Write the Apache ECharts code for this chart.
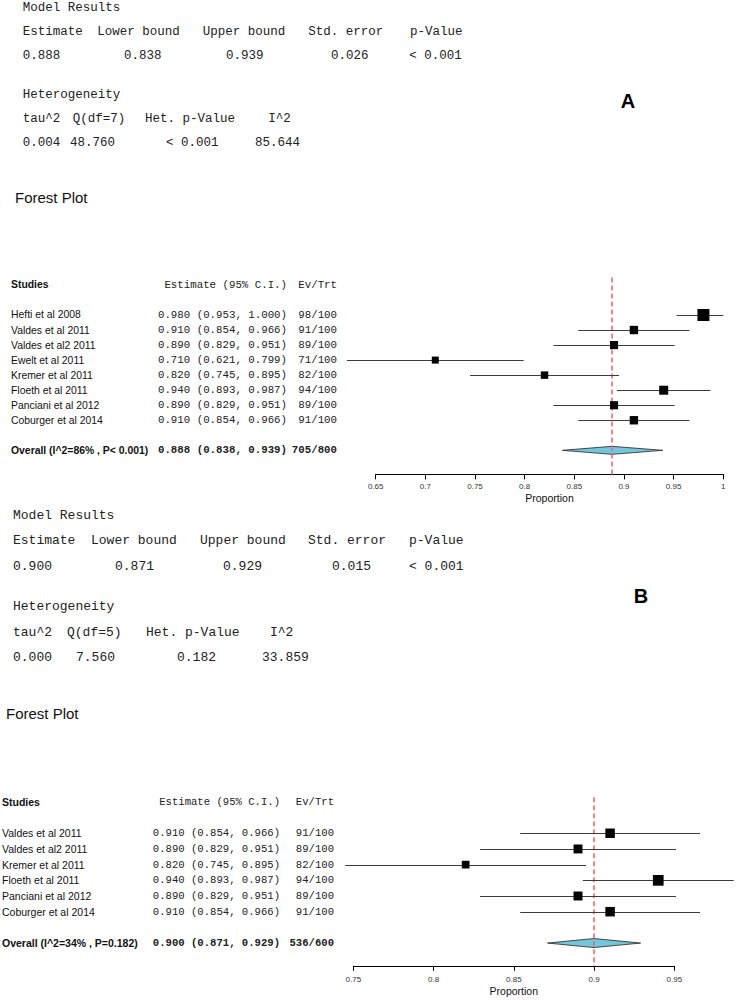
<!DOCTYPE html>
<html><head><meta charset="utf-8">
<script src="https://cdn.jsdelivr.net/npm/echarts@6/dist/echarts.min.js"></script>
<style>html,body{margin:0;padding:0;background:#fff}#c{width:736px;height:1000px}</style>
</head><body><div id="c"></div>
<script>
// ---------- Panel A data ----------
const studiesA = ['Hefti et al 2008','Valdes et al 2011','Valdes et al2 2011','Ewelt et al 2011','Kremer et al 2011','Floeth et al 2011','Panciani et al 2012','Coburger et al 2014'];
const estA  = [0.980,0.910,0.890,0.710,0.820,0.940,0.890,0.910];
const lowA  = [0.953,0.854,0.829,0.621,0.745,0.893,0.829,0.854];
const highA = [1.000,0.966,0.951,0.799,0.895,0.987,0.951,0.966];
const eventsA = [98,91,89,71,82,94,89,91];
const totalsA = [100,100,100,100,100,100,100,100];
const overallA = [0.888,0.838,0.939];          // estimate, lower, upper
const overallEvA = [705,800];
const overallLabelA = 'Overall (I^2=86% , P< 0.001)';
const ticksA = [0.65,0.7,0.75,0.8,0.85,0.9,0.95,1];
const modelValuesA = ['0.888','0.838','0.939','0.026','< 0.001'];
const hetHeadersA = ['tau^2','Q(df=7)','Het. p-Value','I^2'];
const hetValuesA = ['0.004','48.760','< 0.001','85.644'];

// ---------- Panel B data ----------
const studiesB = ['Valdes et al 2011','Valdes et al2 2011','Kremer et al 2011','Floeth et al 2011','Panciani et al 2012','Coburger et al 2014'];
const estB  = [0.910,0.890,0.820,0.940,0.890,0.910];
const lowB  = [0.854,0.829,0.745,0.893,0.829,0.854];
const highB = [0.966,0.951,0.895,0.987,0.951,0.966];
const eventsB = [91,89,82,94,89,91];
const totalsB = [100,100,100,100,100,100];
const overallB = [0.900,0.871,0.929];
const overallEvB = [536,600];
const overallLabelB = 'Overall (I^2=34% , P=0.182)';
const ticksB = [0.75,0.8,0.85,0.9,0.95];
const modelValuesB = ['0.900','0.871','0.929','0.015','< 0.001'];
const hetHeadersB = ['tau^2','Q(df=5)','Het. p-Value','I^2'];
const hetValuesB = ['0.000','7.560','0.182','33.859'];

// ---------- shared texts ----------
const modelHeaders = ['Estimate','Lower bound','Upper bound','Std. error','p-Value'];
const tableHeaders = ['Studies','Estimate (95% C.I.)','Ev/Trt'];
const axisName = 'Proportion';
const plotTitle = 'Forest Plot';

// ---------- layout / style ----------
const SANS = '"Liberation Sans", Arial, Helvetica, sans-serif';
const MONO = '"Liberation Mono", "Courier New", monospace';
const layoutA = {
  grid:{left:375.7,width:347.6,top:277.4,height:197}, yMin:-2.5, yMax:10.6,
  colName:11, colEst:287, colEv:337, mono:10.75, sans:10.4, sq:[7,12], dh:4,
  labelMargin:8, nameGap:18,
  title:{x:15,y:197}, letter:{t:'A',x:628,y:101},
  top:{size:12.5, ys:[8,32,56,95,119,143],
       hCols:[22.7,97.3,202.7,308.3,410], vCols:[22.7,124,226,331,409.3],
       hetCols:[22.7,72.7,145,268.3], hetVCols:[22.7,70,166,255]}
};
const layoutB = {
  grid:{left:353.3,width:321,top:797.2,height:168.6}, yMin:-2.3, yMax:8.45,
  colName:2, colEst:280, colEv:334, mono:10.6, sans:10.5, sq:[7.7,10.7], dh:4.5,
  labelMargin:10, nameGap:20,
  title:{x:6,y:713}, letter:{t:'B',x:641,y:596},
  top:{size:13, ys:[515,540,566,606,632,657],
       hCols:[13,91,200,308,409], vCols:[13,115,223,332,409],
       hetCols:[13,67,146,270], hetVCols:[13,76,177,262]}
};

const f3 = v => v.toFixed(3);

function tableRows(studies, est, low, high, ev, tot, overall, ovEv, ovLabel){
  const rows = [{y:-2, cells:tableHeaders.slice(), header:true}];
  studies.forEach((s,i)=>rows.push({y:i, cells:[s, `${f3(est[i])} (${f3(low[i])}, ${f3(high[i])})`, `${ev[i]}/${tot[i]}`]}));
  rows.push({y:studies.length+1, bold:true,
    cells:[ovLabel, `${f3(overall[0])} (${f3(overall[1])}, ${f3(overall[2])})`, `${ovEv[0]}/${ovEv[1]}`]});
  return rows;
}

function topBlock(L, modelValues, hetHeaders, hetValues){
  const t = L.top, font = `${t.size}px ${MONO}`, out = [];
  const add = (text,x,y)=>out.push({type:'text', x, y, silent:true,
      style:{text, font, fill:'#222', verticalAlign:'middle', align:'left'}});
  add('Model Results', t.hCols[0], t.ys[0]);
  modelHeaders.forEach((h,i)=>add(h, t.hCols[i], t.ys[1]));
  modelValues.forEach((v,i)=>add(v, t.vCols[i], t.ys[2]));
  add('Heterogeneity', t.hetCols[0], t.ys[3]);
  hetHeaders.forEach((h,i)=>add(h, t.hetCols[i], t.ys[4]));
  hetValues.forEach((v,i)=>add(v, t.hetVCols[i], t.ys[5]));
  out.push({type:'text', x:L.title.x, y:L.title.y, silent:true,
    style:{text:plotTitle, font:`15px ${SANS}`, fill:'#111', verticalAlign:'middle'}});
  out.push({type:'text', x:L.letter.x, y:L.letter.y, silent:true,
    style:{text:L.letter.t, font:`bold 20px ${SANS}`, fill:'#000', align:'center', verticalAlign:'middle'}});
  return out;
}

const grids=[], xAxes=[], yAxes=[], series=[], graphics=[];

function panel(idx, L, ticks, studies, est, low, high, ev, tot, overall, ovEv, ovLabel){
  grids.push(L.grid);
  xAxes.push({type:'value', gridIndex:idx, min:ticks[0], max:ticks[ticks.length-1],
    interval:+(ticks[1]-ticks[0]).toFixed(4),
    axisLine:{show:true, onZero:false, lineStyle:{color:'#000', width:1}},
    axisTick:{show:true, inside:false, length:5, lineStyle:{color:'#000', width:1}},
    axisLabel:{show:true, fontSize:8, color:'#333', margin:L.labelMargin, fontFamily:SANS, showMinLabel:true, showMaxLabel:true},
    splitLine:{show:false},
    name:axisName, nameLocation:'middle', nameGap:L.nameGap,
    nameTextStyle:{fontSize:10.5, color:'#111', fontFamily:SANS}});
  yAxes.push({type:'value', gridIndex:idx, inverse:true, min:L.yMin, max:L.yMax, show:false});

  const inv = low.map((l,i)=>1/Math.sqrt(high[i]-l));
  const iMin = Math.min(...inv), iMax = Math.max(...inv);
  const sizeOf = (l,h)=> L.sq[0] + (1/Math.sqrt(h-l) - iMin)/(iMax-iMin)*(L.sq[1]-L.sq[0]);

  // diamond (pooled estimate)
  const oy = studies.length+1;
  series.push({type:'custom', xAxisIndex:idx, yAxisIndex:idx, z:2, silent:true,
    data:[[overall[0], oy, overall[1], overall[2]]],
    renderItem:(p,api)=>{
      const c = api.coord([api.value(0), api.value(1)]);
      const l = api.coord([api.value(2), api.value(1)]);
      const h = api.coord([api.value(3), api.value(1)]);
      return {type:'polygon', shape:{points:[[l[0],c[1]],[c[0],c[1]-L.dh],[h[0],c[1]],[c[0],c[1]+L.dh]]},
        style:{fill:'#74c6da', stroke:'#222', lineWidth:0.8}};
    }});
  // red dashed reference line at pooled estimate
  series.push({type:'line', xAxisIndex:idx, yAxisIndex:idx, z:3, silent:true, symbol:'none',
    data:[[overall[0], L.yMin],[overall[0], L.yMax]],
    lineStyle:{color:'#e8646c', width:1.5, type:[5,3]}, animation:false});
  // study CIs and squares
  series.push({type:'custom', xAxisIndex:idx, yAxisIndex:idx, z:4, silent:true,
    data: studies.map((s,i)=>[est[i], i, low[i], high[i]]),
    renderItem:(p,api)=>{
      const c = api.coord([api.value(0), api.value(1)]);
      const l = api.coord([api.value(2), api.value(1)]);
      const h = api.coord([api.value(3), api.value(1)]);
      const s = sizeOf(api.value(2), api.value(3));
      const y = Math.round(c[1])+0.5;
      return {type:'group', children:[
        {type:'line', shape:{x1:l[0],y1:y,x2:h[0],y2:y}, style:{stroke:'#3c3c3c', lineWidth:1}},
        {type:'rect', shape:{x:c[0]-s/2, y:c[1]-s/2, width:s, height:s}, style:{fill:'#000'}}
      ]};
    }});
  // table text columns, placed on the same row scale
  const rows = tableRows(studies, est, low, high, ev, tot, overall, ovEv, ovLabel);
  series.push({type:'custom', xAxisIndex:idx, yAxisIndex:idx, z:5, silent:true,
    data: rows.map((r,k)=>[ticks[0], r.y, k]),
    renderItem:(p,api)=>{
      const r = rows[api.value(2)];
      const y = api.coord([ticks[0], api.value(1)])[1];
      const w = r.bold ? 'bold ' : '';
      return {type:'group', children:[
        {type:'text', style:{text:r.cells[0], x:L.colName, y, font:`${(r.bold||r.header)?'bold ':''}${L.sans}px ${SANS}`, fill:'#111', align:'left', verticalAlign:'middle'}},
        {type:'text', style:{text:r.cells[1], x:L.colEst, y, font:`${w}${L.mono}px ${MONO}`, fill:'#222', align:'right', verticalAlign:'middle'}},
        {type:'text', style:{text:r.cells[2], x:L.colEv, y, font:`${w}${L.mono}px ${MONO}`, fill:'#222', align:'right', verticalAlign:'middle'}}
      ]};
    }});
}

panel(0, layoutA, ticksA, studiesA, estA, lowA, highA, eventsA, totalsA, overallA, overallEvA, overallLabelA);
panel(1, layoutB, ticksB, studiesB, estB, lowB, highB, eventsB, totalsB, overallB, overallEvB, overallLabelB);
graphics.push(...topBlock(layoutA, modelValuesA, hetHeadersA, hetValuesA));
graphics.push(...topBlock(layoutB, modelValuesB, hetHeadersB, hetValuesB));

const chart = echarts.init(document.getElementById('c'), null, {renderer:'svg', width:736, height:1000});
chart.setOption({
  backgroundColor:'#fff', animation:false,
  grid:grids, xAxis:xAxes, yAxis:yAxes, series, graphic:graphics
});
</script></body></html>
